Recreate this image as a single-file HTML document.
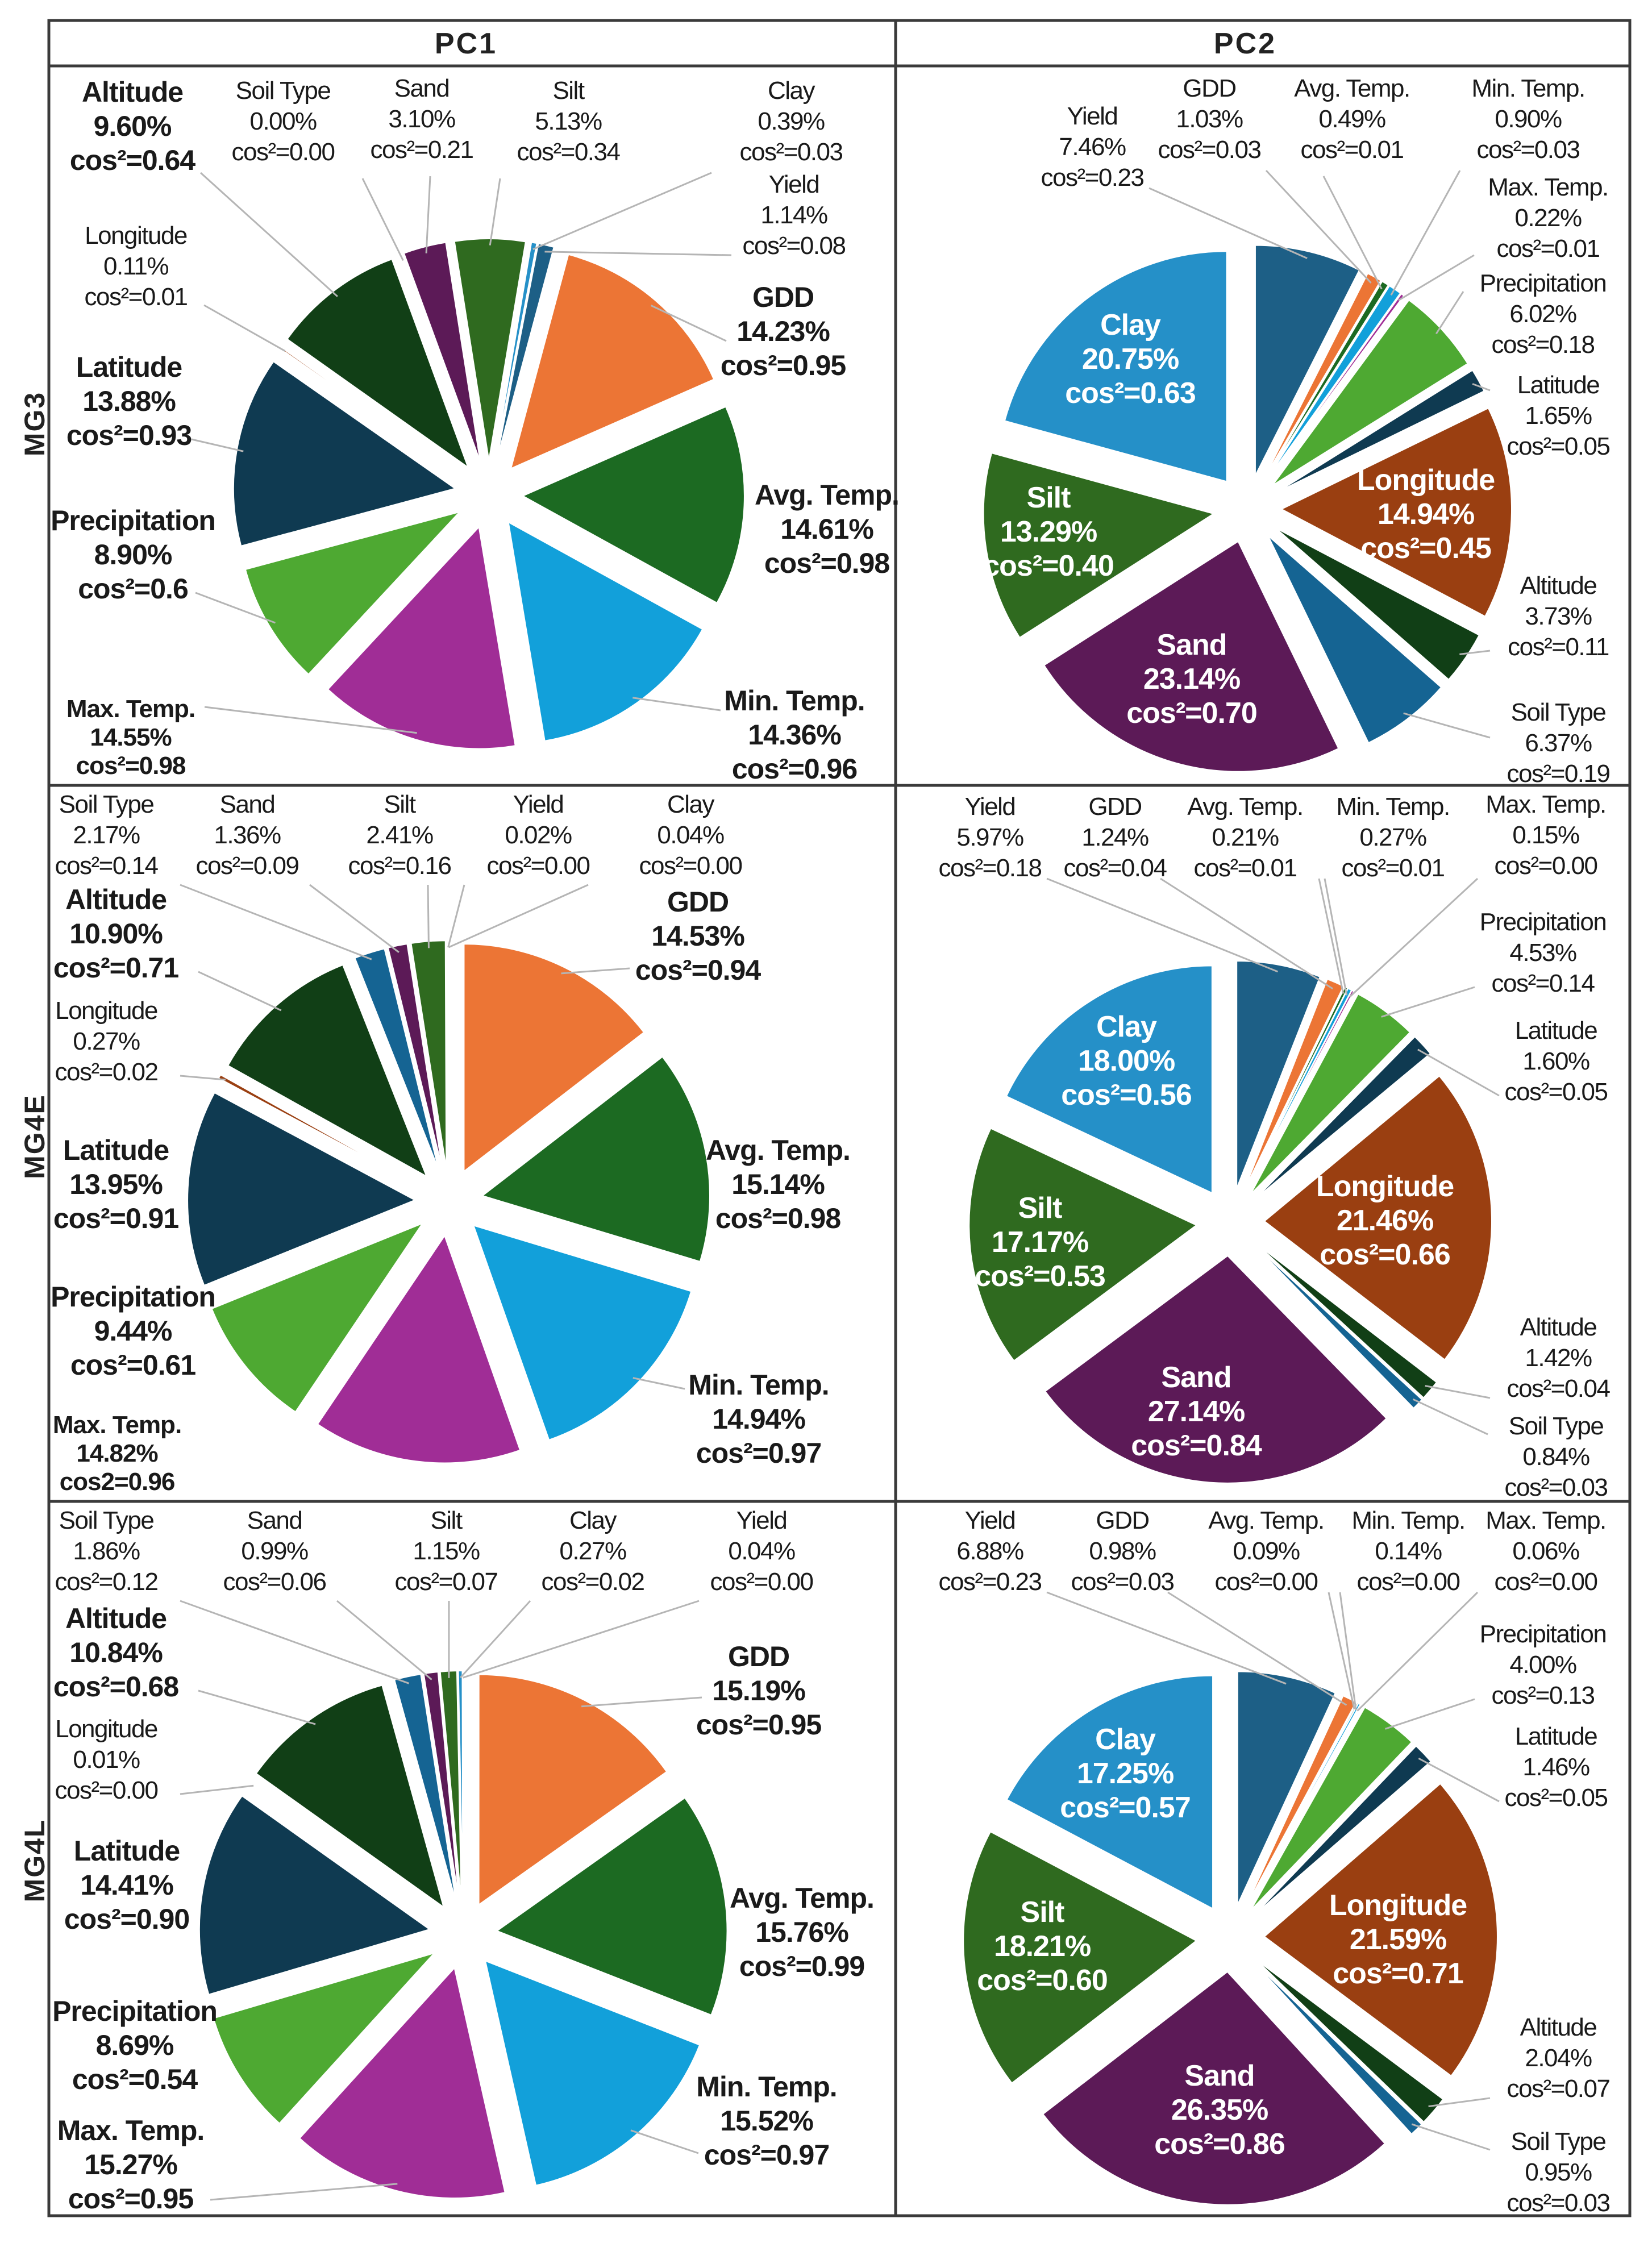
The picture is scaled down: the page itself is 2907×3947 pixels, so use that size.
<!DOCTYPE html>
<html><head><meta charset="utf-8">
<style>
html,body{margin:0;padding:0;background:#fff;}
svg{display:block;font-family:"Liberation Sans",Arial,sans-serif;}
</style></head>
<body>
<svg id="chart" width="2907" height="3947" viewBox="0 0 2907 3947" xmlns="http://www.w3.org/2000/svg">
<rect x="0" y="0" width="2907" height="3947" fill="#fff"/>
<g stroke="#3a3a3a" stroke-width="5" fill="none">
<rect x="86" y="36" width="2782" height="3863"/>
<line x1="86" y1="116" x2="2868" y2="116"/>
<line x1="86" y1="1382" x2="2868" y2="1382"/>
<line x1="86" y1="2642" x2="2868" y2="2642"/>
<line x1="1576" y1="36" x2="1576" y2="3899"/>
</g>
<text x="820" y="94" text-anchor="middle" font-size="52" font-weight="bold" letter-spacing="3" fill="#222">PC1</text>
<text x="2191" y="94" text-anchor="middle" font-size="52" font-weight="bold" letter-spacing="3" fill="#222">PC2</text>
<text transform="translate(78,746) rotate(-90)" text-anchor="middle" font-size="50" font-weight="bold" letter-spacing="2" fill="#222">MG3</text>
<text transform="translate(78,2000) rotate(-90)" text-anchor="middle" font-size="50" font-weight="bold" letter-spacing="2" fill="#222">MG4E</text>
<text transform="translate(78,3274) rotate(-90)" text-anchor="middle" font-size="50" font-weight="bold" letter-spacing="2" fill="#222">MG4L</text>
</svg>
<script>
// ---- data ----
const mg3pc1Names = ["Sand","Silt","Clay","Yield","GDD","Avg. Temp.","Min. Temp.","Max. Temp.","Precipitation","Latitude","Longitude","Altitude","Soil Type"];
const mg3pc1Values = [3.10,5.13,0.39,1.14,14.23,14.61,14.36,14.55,8.90,13.88,0.11,9.60,0.00];
const mg3pc1Cos = ["0.21","0.34","0.03","0.08","0.95","0.98","0.96","0.98","0.6","0.93","0.01","0.64","0.00"];

const mg3pc2Names = ["Yield","GDD","Avg. Temp.","Min. Temp.","Max. Temp.","Precipitation","Latitude","Longitude","Altitude","Soil Type","Sand","Silt","Clay"];
const mg3pc2Values = [7.46,1.03,0.49,0.90,0.22,6.02,1.65,14.94,3.73,6.37,23.14,13.29,20.75];
const mg3pc2Cos = ["0.23","0.03","0.01","0.03","0.01","0.18","0.05","0.45","0.11","0.19","0.70","0.40","0.63"];

const mg4epc1Names = ["Soil Type","Sand","Silt","Yield","Clay","GDD","Avg. Temp.","Min. Temp.","Max. Temp.","Precipitation","Latitude","Longitude","Altitude"];
const mg4epc1Values = [2.17,1.36,2.41,0.02,0.04,14.53,15.14,14.94,14.82,9.44,13.95,0.27,10.90];
const mg4epc1Cos = ["0.14","0.09","0.16","0.00","0.00","0.94","0.98","0.97","0.96","0.61","0.91","0.02","0.71"];

const mg4epc2Names = ["Yield","GDD","Avg. Temp.","Min. Temp.","Max. Temp.","Precipitation","Latitude","Longitude","Altitude","Soil Type","Sand","Silt","Clay"];
const mg4epc2Values = [5.97,1.24,0.21,0.27,0.15,4.53,1.60,21.46,1.42,0.84,27.14,17.17,18.00];
const mg4epc2Cos = ["0.18","0.04","0.01","0.01","0.00","0.14","0.05","0.66","0.04","0.03","0.84","0.53","0.56"];

const mg4lpc1Names = ["Soil Type","Sand","Silt","Clay","Yield","GDD","Avg. Temp.","Min. Temp.","Max. Temp.","Precipitation","Latitude","Longitude","Altitude"];
const mg4lpc1Values = [1.86,0.99,1.15,0.27,0.04,15.19,15.76,15.52,15.27,8.69,14.41,0.01,10.84];
const mg4lpc1Cos = ["0.12","0.06","0.07","0.02","0.00","0.95","0.99","0.97","0.95","0.54","0.90","0.00","0.68"];

const mg4lpc2Names = ["Yield","GDD","Avg. Temp.","Min. Temp.","Max. Temp.","Precipitation","Latitude","Longitude","Altitude","Soil Type","Sand","Silt","Clay"];
const mg4lpc2Values = [6.88,0.98,0.09,0.14,0.06,4.00,1.46,21.59,2.04,0.95,26.35,18.21,17.25];
const mg4lpc2Cos = ["0.23","0.03","0.00","0.00","0.00","0.13","0.05","0.71","0.07","0.03","0.86","0.60","0.57"];

// ---- styling ----
const colors = {"Sand":"#5c1a57","Silt":"#2f6a1f","Clay":"#2590c8","Yield":"#1d5f86","GDD":"#ec7535","Avg. Temp.":"#1c6a22","Min. Temp.":"#12a0da","Max. Temp.":"#a02d96","Precipitation":"#4ea932","Latitude":"#0f3a51","Longitude":"#9a3f11","Altitude":"#113f16","Soil Type":"#156493"};
const NS = "http://www.w3.org/2000/svg";
const svg = document.getElementById("chart");
const slug = s => s.toLowerCase().replace(/[^a-z0-9]+/g,"-").replace(/-$/,"");

function addText(g, x, y, lines, size, bold, fill, sp, name) {
  const t = document.createElementNS(NS,"text");
  t.setAttribute("x", x); t.setAttribute("y", y);
  t.setAttribute("text-anchor","middle");
  t.setAttribute("font-size", size);
  if (bold) t.setAttribute("font-weight","bold");
  t.setAttribute("fill", fill);
  t.setAttribute("letter-spacing", bold ? "-1" : "-1.5");
  
  
  lines.forEach((ln,i)=>{
    const ts = document.createElementNS(NS,"tspan");
    ts.setAttribute("x", x);
    if (i>0) ts.setAttribute("dy", sp);
    ts.textContent = ln;
    t.appendChild(ts);
  });
  g.appendChild(t);
}

function drawPie(id, names, vals, cos, cfg) {
  const g = document.createElementNS(NS,"g");
  
  
  svg.appendChild(g);
  const total = vals.reduce((a,b)=>a+b,0);
  let a = cfg.start;
  const mids = {};
  names.forEach((n,i)=>{
    const span = vals[i]/total*360;
    const a0 = a, a1 = a+span; a = a1;
    const mid = (a0+a1)/2*Math.PI/180;
    mids[n] = mid;
    if (span <= 0) return;
    const ox = cfg.cx + cfg.e*Math.sin(mid), oy = cfg.cy - cfg.e*Math.cos(mid);
    const r0 = a0*Math.PI/180, r1 = a1*Math.PI/180;
    const x0 = ox + cfg.r*Math.sin(r0), y0 = oy - cfg.r*Math.cos(r0);
    const x1 = ox + cfg.r*Math.sin(r1), y1 = oy - cfg.r*Math.cos(r1);
    const p = document.createElementNS(NS,"path");
    p.setAttribute("d",`M${ox},${oy} L${x0},${y0} A${cfg.r},${cfg.r} 0 ${span>180?1:0} 1 ${x1},${y1} Z`);
    p.setAttribute("fill", colors[n]);
    p.setAttribute("stroke","#fff");
    p.setAttribute("stroke-width","2");
    
    
    g.appendChild(p);
  });
  names.forEach((n,i)=>{
    const L = cfg.layout[n]; if (!L) return;
    const prefix = L.prefix || "cos\u00b2=";
    const lines = [n, vals[i].toFixed(2)+"%", prefix+cos[i]];
    if (L.inside) {
      addText(g, L.x, L.y, lines, 52, true, "#fff", 60, 'label-' + slug(n));
      return;
    }
    const bold = !!L.bold;
    const sp = L.sp || (bold ? 60 : 54);
    if (L.lead) {
      const m = mids[n];
      const rr = cfg.r*0.97 + cfg.e;
      const ex = cfg.cx + rr*Math.sin(m), ey = cfg.cy - rr*Math.cos(m);
      const ln = document.createElementNS(NS,"line");
      ln.setAttribute("x1", L.x + L.lead[0]); ln.setAttribute("y1", L.y + L.lead[1]);
      ln.setAttribute("x2", ex); ln.setAttribute("y2", ey);
      ln.setAttribute("stroke","#b5b5b5"); ln.setAttribute("stroke-width","3");
      
      
      g.appendChild(ln);
    }
    addText(g, L.x, L.y, lines, L.size || (bold ? 50 : 44), bold, "#1a1a1a", sp, 'label-' + slug(n));
  });
}

drawPie("pie-mg3-pc1", mg3pc1Names, mg3pc1Values, mg3pc1Cos, {cx:860,cy:870,r:390,e:60,start:-20.1, layout:{
  "Altitude":{x:233,y:179,bold:true,lead:[120,125]},
  "Soil Type":{x:498,y:174,lead:[140,140]},
  "Sand":{x:742,y:170,lead:[15,140]},
  "Silt":{x:1000,y:174,lead:[-120,140]},
  "Clay":{x:1392,y:174,lead:[-140,130]},
  "Yield":{x:1397,y:339,lead:[-110,110]},
  "Longitude":{x:239,y:429,lead:[120,108]},
  "GDD":{x:1378,y:540,bold:true,lead:[-100,60]},
  "Latitude":{x:227,y:663,bold:true,lead:[110,110]},
  "Avg. Temp.":{x:1455,y:888,bold:true},
  "Precipitation":{x:234,y:933,bold:true,lead:[110,110]},
  "Min. Temp.":{x:1398,y:1250,bold:true,lead:[-130,0]},
  "Max. Temp.":{x:230,y:1262,bold:true,size:44,sp:50,lead:[130,-18]}
}});
drawPie("pie-mg3-pc2", mg3pc2Names, mg3pc2Values, mg3pc2Cos, {cx:2195,cy:895,r:405,e:60,start:0, layout:{
  "Yield":{x:1922,y:219,lead:[100,112]},
  "GDD":{x:2128,y:170,lead:[100,130]},
  "Avg. Temp.":{x:2379,y:170,lead:[-50,140]},
  "Min. Temp.":{x:2689,y:170,lead:[-120,130]},
  "Max. Temp.":{x:2724,y:344,lead:[-130,105]},
  "Precipitation":{x:2715,y:513,lead:[-140,0]},
  "Latitude":{x:2742,y:692,lead:[-120,-5]},
  "Longitude":{x:2509,y:862,inside:true},
  "Altitude":{x:2742,y:1045,lead:[-120,100]},
  "Soil Type":{x:2742,y:1268,lead:[-120,30]},
  "Sand":{x:2097,y:1152,inside:true},
  "Silt":{x:1845,y:893,inside:true},
  "Clay":{x:1989,y:589,inside:true}
}});
drawPie("pie-mg4e-pc1", mg4epc1Names, mg4epc1Values, mg4epc1Cos, {cx:790,cy:2115,r:400,e:60,start:-21.6, layout:{
  "Soil Type":{x:187,y:1430,lead:[130,127]},
  "Sand":{x:435,y:1430,lead:[110,127]},
  "Silt":{x:703,y:1430,lead:[50,127]},
  "Yield":{x:947,y:1430,lead:[-130,127]},
  "Clay":{x:1215,y:1430,lead:[-180,127]},
  "Altitude":{x:204,y:1600,bold:true,lead:[145,110]},
  "GDD":{x:1228,y:1604,bold:true,lead:[-120,100]},
  "Longitude":{x:187,y:1793,lead:[130,100]},
  "Latitude":{x:204,y:2041,bold:true},
  "Avg. Temp.":{x:1369,y:2041,bold:true},
  "Precipitation":{x:234,y:2299,bold:true},
  "Min. Temp.":{x:1335,y:2454,bold:true,lead:[-130,-10]},
  "Max. Temp.":{x:206,y:2522,bold:true,size:44,sp:50,prefix:"cos2="}
}});
drawPie("pie-mg4e-pc2", mg4epc2Names, mg4epc2Values, mg4epc2Cos, {cx:2165,cy:2150,r:400,e:60,start:0, layout:{
  "Yield":{x:1742,y:1434,lead:[100,112]},
  "GDD":{x:1962,y:1434,lead:[80,112]},
  "Avg. Temp.":{x:2191,y:1434,lead:[130,112]},
  "Min. Temp.":{x:2451,y:1434,lead:[-120,112]},
  "Max. Temp.":{x:2720,y:1430,lead:[-120,116]},
  "Precipitation":{x:2715,y:1637,lead:[-120,100]},
  "Latitude":{x:2738,y:1828,lead:[-100,100]},
  "Longitude":{x:2437,y:2105,inside:true},
  "Altitude":{x:2742,y:2350,lead:[-120,110]},
  "Soil Type":{x:2738,y:2524,lead:[-120,0]},
  "Sand":{x:2105,y:2441,inside:true},
  "Silt":{x:1830,y:2143,inside:true},
  "Clay":{x:1982,y:1824,inside:true}
}});
drawPie("pie-mg4l-pc1", mg4lpc1Names, mg4lpc1Values, mg4lpc1Cos, {cx:815,cy:3405,r:405,e:60,start:-15.5, layout:{
  "Soil Type":{x:187,y:2690,lead:[130,127]},
  "Sand":{x:483,y:2690,lead:[110,127]},
  "Silt":{x:785,y:2690,lead:[5,127]},
  "Clay":{x:1043,y:2690,lead:[-110,127]},
  "Yield":{x:1340,y:2690,lead:[-110,127]},
  "Altitude":{x:204,y:2865,bold:true,lead:[145,110]},
  "GDD":{x:1335,y:2932,bold:true,lead:[-100,55]},
  "Longitude":{x:187,y:3057,lead:[130,100]},
  "Latitude":{x:223,y:3274,bold:true},
  "Avg. Temp.":{x:1411,y:3357,bold:true},
  "Precipitation":{x:237,y:3556,bold:true},
  "Min. Temp.":{x:1349,y:3689,bold:true,lead:[-120,100]},
  "Max. Temp.":{x:230,y:3766,bold:true,lead:[140,105]}
}});
drawPie("pie-mg4l-pc2", mg4lpc2Names, mg4lpc2Values, mg4lpc2Cos, {cx:2165,cy:3410,r:410,e:60,start:0, layout:{
  "Yield":{x:1742,y:2690,lead:[100,112]},
  "GDD":{x:1975,y:2690,lead:[80,112]},
  "Avg. Temp.":{x:2228,y:2690,lead:[110,112]},
  "Min. Temp.":{x:2478,y:2690,lead:[-120,112]},
  "Max. Temp.":{x:2720,y:2690,lead:[-120,112]},
  "Precipitation":{x:2715,y:2890,lead:[-120,100]},
  "Latitude":{x:2738,y:3070,lead:[-100,100]},
  "Longitude":{x:2460,y:3370,inside:true},
  "Altitude":{x:2742,y:3582,lead:[-120,110]},
  "Soil Type":{x:2742,y:3783,lead:[-120,0]},
  "Sand":{x:2146,y:3670,inside:true},
  "Silt":{x:1834,y:3382,inside:true},
  "Clay":{x:1980,y:3078,inside:true}
}});
</script>
</body></html>
